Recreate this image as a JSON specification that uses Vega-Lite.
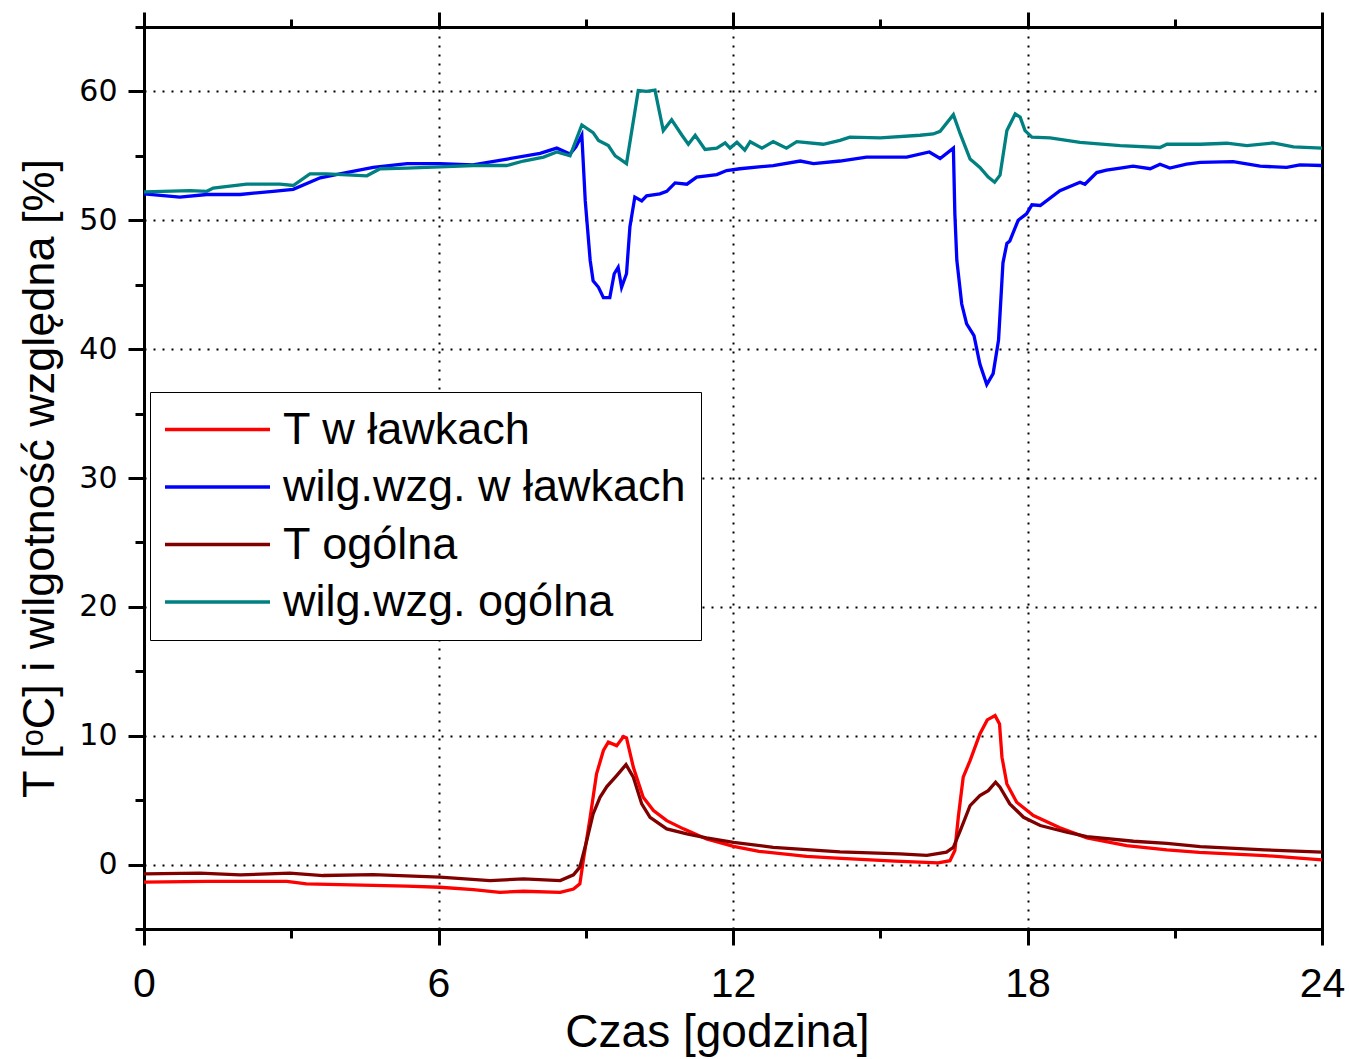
{
  "$schema": "https://vega.github.io/schema/vega-lite/v6.json",
  "width": 1178,
  "height": 902,
  "autosize": {"type": "none"},
  "padding": {"left": 144, "top": 27, "right": 27, "bottom": 130},
  "background": "white",
  "config": {"view": {"stroke": null}},
  "data": {"values": [
    {"h":0,"v":-1.37,"s":"T w ławkach"},{"h":1.28,"v":-1.3,"s":"T w ławkach"},{"h":2.91,"v":-1.3,"s":"T w ławkach"},{"h":3.31,"v":-1.5,"s":"T w ławkach"},{"h":3.99,"v":-1.55,"s":"T w ławkach"},{"h":5.35,"v":-1.68,"s":"T w ławkach"},{"h":6.03,"v":-1.76,"s":"T w ławkach"},{"h":6.71,"v":-1.94,"s":"T w ławkach"},{"h":7.25,"v":-2.15,"s":"T w ławkach"},{"h":7.73,"v":-2.07,"s":"T w ławkach"},{"h":8.48,"v":-2.15,"s":"T w ławkach"},{"h":8.75,"v":-1.9,"s":"T w ławkach"},{"h":8.88,"v":-1.5,"s":"T w ławkach"},{"h":8.95,"v":0.31,"s":"T w ławkach"},{"h":9.09,"v":3.67,"s":"T w ławkach"},{"h":9.22,"v":7.04,"s":"T w ławkach"},{"h":9.36,"v":8.85,"s":"T w ławkach"},{"h":9.46,"v":9.5,"s":"T w ławkach"},{"h":9.63,"v":9.23,"s":"T w ławkach"},{"h":9.77,"v":9.93,"s":"T w ławkach"},{"h":9.83,"v":9.83,"s":"T w ławkach"},{"h":9.97,"v":7.55,"s":"T w ławkach"},{"h":10.17,"v":5.22,"s":"T w ławkach"},{"h":10.38,"v":4.19,"s":"T w ławkach"},{"h":10.65,"v":3.41,"s":"T w ławkach"},{"h":10.99,"v":2.77,"s":"T w ławkach"},{"h":11.46,"v":1.99,"s":"T w ławkach"},{"h":12.01,"v":1.42,"s":"T w ławkach"},{"h":12.53,"v":1.03,"s":"T w ławkach"},{"h":13.5,"v":0.64,"s":"T w ławkach"},{"h":14.11,"v":0.5,"s":"T w ławkach"},{"h":15.3,"v":0.26,"s":"T w ławkach"},{"h":16.18,"v":0.13,"s":"T w ławkach"},{"h":16.42,"v":0.3,"s":"T w ławkach"},{"h":16.52,"v":1.09,"s":"T w ławkach"},{"h":16.59,"v":3.67,"s":"T w ławkach"},{"h":16.69,"v":6.78,"s":"T w ławkach"},{"h":16.83,"v":8.07,"s":"T w ławkach"},{"h":17.03,"v":10.14,"s":"T w ławkach"},{"h":17.18,"v":11.23,"s":"T w ławkach"},{"h":17.34,"v":11.56,"s":"T w ławkach"},{"h":17.43,"v":10.92,"s":"T w ławkach"},{"h":17.48,"v":8.33,"s":"T w ławkach"},{"h":17.58,"v":6.26,"s":"T w ławkach"},{"h":17.78,"v":4.84,"s":"T w ławkach"},{"h":18.12,"v":3.8,"s":"T w ławkach"},{"h":18.66,"v":2.85,"s":"T w ławkach"},{"h":19.21,"v":2.07,"s":"T w ławkach"},{"h":20.02,"v":1.47,"s":"T w ławkach"},{"h":20.84,"v":1.14,"s":"T w ławkach"},{"h":21.5,"v":0.95,"s":"T w ławkach"},{"h":22.84,"v":0.7,"s":"T w ławkach"},{"h":24,"v":0.36,"s":"T w ławkach"},

    {"h":0,"v":52.05,"s":"wilg.wzg. w ławkach"},{"h":0.73,"v":51.8,"s":"wilg.wzg. w ławkach"},{"h":1.28,"v":52.0,"s":"wilg.wzg. w ławkach"},{"h":1.96,"v":52.0,"s":"wilg.wzg. w ławkach"},{"h":2.63,"v":52.25,"s":"wilg.wzg. w ławkach"},{"h":3.04,"v":52.4,"s":"wilg.wzg. w ławkach"},{"h":3.59,"v":53.3,"s":"wilg.wzg. w ławkach"},{"h":3.99,"v":53.6,"s":"wilg.wzg. w ławkach"},{"h":4.67,"v":54.1,"s":"wilg.wzg. w ławkach"},{"h":5.36,"v":54.4,"s":"wilg.wzg. w ławkach"},{"h":6.03,"v":54.4,"s":"wilg.wzg. w ławkach"},{"h":6.7,"v":54.3,"s":"wilg.wzg. w ławkach"},{"h":7.4,"v":54.75,"s":"wilg.wzg. w ławkach"},{"h":8.07,"v":55.2,"s":"wilg.wzg. w ławkach"},{"h":8.41,"v":55.6,"s":"wilg.wzg. w ławkach"},{"h":8.68,"v":55.15,"s":"wilg.wzg. w ławkach"},{"h":8.8,"v":55.7,"s":"wilg.wzg. w ławkach"},{"h":8.92,"v":56.6,"s":"wilg.wzg. w ławkach"},{"h":8.99,"v":51.5,"s":"wilg.wzg. w ławkach"},{"h":9.09,"v":46.9,"s":"wilg.wzg. w ławkach"},{"h":9.15,"v":45.3,"s":"wilg.wzg. w ławkach"},{"h":9.26,"v":44.8,"s":"wilg.wzg. w ławkach"},{"h":9.36,"v":44.0,"s":"wilg.wzg. w ławkach"},{"h":9.49,"v":44.0,"s":"wilg.wzg. w ławkach"},{"h":9.58,"v":45.85,"s":"wilg.wzg. w ławkach"},{"h":9.66,"v":46.35,"s":"wilg.wzg. w ławkach"},{"h":9.73,"v":44.8,"s":"wilg.wzg. w ławkach"},{"h":9.83,"v":45.85,"s":"wilg.wzg. w ławkach"},{"h":9.9,"v":49.5,"s":"wilg.wzg. w ławkach"},{"h":10.0,"v":51.8,"s":"wilg.wzg. w ławkach"},{"h":10.14,"v":51.5,"s":"wilg.wzg. w ławkach"},{"h":10.24,"v":51.9,"s":"wilg.wzg. w ławkach"},{"h":10.51,"v":52.05,"s":"wilg.wzg. w ławkach"},{"h":10.65,"v":52.25,"s":"wilg.wzg. w ławkach"},{"h":10.82,"v":52.9,"s":"wilg.wzg. w ławkach"},{"h":11.06,"v":52.8,"s":"wilg.wzg. w ławkach"},{"h":11.26,"v":53.35,"s":"wilg.wzg. w ławkach"},{"h":11.67,"v":53.55,"s":"wilg.wzg. w ławkach"},{"h":11.87,"v":53.86,"s":"wilg.wzg. w ławkach"},{"h":12.14,"v":54.0,"s":"wilg.wzg. w ławkach"},{"h":12.82,"v":54.25,"s":"wilg.wzg. w ławkach"},{"h":13.37,"v":54.6,"s":"wilg.wzg. w ławkach"},{"h":13.64,"v":54.4,"s":"wilg.wzg. w ławkach"},{"h":14.18,"v":54.6,"s":"wilg.wzg. w ławkach"},{"h":14.72,"v":54.9,"s":"wilg.wzg. w ławkach"},{"h":15.54,"v":54.9,"s":"wilg.wzg. w ławkach"},{"h":16.0,"v":55.3,"s":"wilg.wzg. w ławkach"},{"h":16.22,"v":54.8,"s":"wilg.wzg. w ławkach"},{"h":16.49,"v":55.6,"s":"wilg.wzg. w ławkach"},{"h":16.52,"v":50.5,"s":"wilg.wzg. w ławkach"},{"h":16.56,"v":46.9,"s":"wilg.wzg. w ławkach"},{"h":16.66,"v":43.5,"s":"wilg.wzg. w ławkach"},{"h":16.76,"v":41.96,"s":"wilg.wzg. w ławkach"},{"h":16.91,"v":41.05,"s":"wilg.wzg. w ławkach"},{"h":17.03,"v":38.85,"s":"wilg.wzg. w ławkach"},{"h":17.17,"v":37.25,"s":"wilg.wzg. w ławkach"},{"h":17.3,"v":38.1,"s":"wilg.wzg. w ławkach"},{"h":17.41,"v":40.7,"s":"wilg.wzg. w ławkach"},{"h":17.5,"v":46.7,"s":"wilg.wzg. w ławkach"},{"h":17.58,"v":48.2,"s":"wilg.wzg. w ławkach"},{"h":17.64,"v":48.4,"s":"wilg.wzg. w ławkach"},{"h":17.81,"v":50.0,"s":"wilg.wzg. w ławkach"},{"h":17.98,"v":50.5,"s":"wilg.wzg. w ławkach"},{"h":18.09,"v":51.2,"s":"wilg.wzg. w ławkach"},{"h":18.26,"v":51.15,"s":"wilg.wzg. w ławkach"},{"h":18.66,"v":52.3,"s":"wilg.wzg. w ławkach"},{"h":19.07,"v":52.95,"s":"wilg.wzg. w ławkach"},{"h":19.17,"v":52.8,"s":"wilg.wzg. w ławkach"},{"h":19.41,"v":53.7,"s":"wilg.wzg. w ławkach"},{"h":19.61,"v":53.9,"s":"wilg.wzg. w ławkach"},{"h":19.89,"v":54.05,"s":"wilg.wzg. w ławkach"},{"h":20.15,"v":54.2,"s":"wilg.wzg. w ławkach"},{"h":20.5,"v":54.0,"s":"wilg.wzg. w ławkach"},{"h":20.7,"v":54.35,"s":"wilg.wzg. w ławkach"},{"h":20.9,"v":54.05,"s":"wilg.wzg. w ławkach"},{"h":21.24,"v":54.35,"s":"wilg.wzg. w ławkach"},{"h":21.52,"v":54.5,"s":"wilg.wzg. w ławkach"},{"h":22.19,"v":54.55,"s":"wilg.wzg. w ławkach"},{"h":22.74,"v":54.2,"s":"wilg.wzg. w ławkach"},{"h":23.28,"v":54.1,"s":"wilg.wzg. w ławkach"},{"h":23.55,"v":54.3,"s":"wilg.wzg. w ławkach"},{"h":24,"v":54.25,"s":"wilg.wzg. w ławkach"},

    {"h":0,"v":-0.72,"s":"T ogólna"},{"h":1.14,"v":-0.67,"s":"T ogólna"},{"h":1.96,"v":-0.8,"s":"T ogólna"},{"h":2.97,"v":-0.67,"s":"T ogólna"},{"h":3.65,"v":-0.85,"s":"T ogólna"},{"h":4.67,"v":-0.78,"s":"T ogólna"},{"h":6.03,"v":-0.98,"s":"T ogólna"},{"h":7.05,"v":-1.24,"s":"T ogólna"},{"h":7.73,"v":-1.11,"s":"T ogólna"},{"h":8.48,"v":-1.24,"s":"T ogólna"},{"h":8.75,"v":-0.8,"s":"T ogólna"},{"h":8.88,"v":-0.2,"s":"T ogólna"},{"h":9.02,"v":1.86,"s":"T ogólna"},{"h":9.15,"v":3.93,"s":"T ogólna"},{"h":9.29,"v":5.22,"s":"T ogólna"},{"h":9.43,"v":6.05,"s":"T ogólna"},{"h":9.63,"v":6.91,"s":"T ogólna"},{"h":9.82,"v":7.76,"s":"T ogólna"},{"h":9.97,"v":6.78,"s":"T ogólna"},{"h":10.14,"v":4.71,"s":"T ogólna"},{"h":10.31,"v":3.67,"s":"T ogólna"},{"h":10.65,"v":2.77,"s":"T ogólna"},{"h":11.06,"v":2.38,"s":"T ogólna"},{"h":11.46,"v":2.07,"s":"T ogólna"},{"h":12.01,"v":1.73,"s":"T ogólna"},{"h":12.82,"v":1.34,"s":"T ogólna"},{"h":14.18,"v":0.98,"s":"T ogólna"},{"h":15.4,"v":0.83,"s":"T ogólna"},{"h":15.95,"v":0.72,"s":"T ogólna"},{"h":16.35,"v":0.96,"s":"T ogólna"},{"h":16.49,"v":1.34,"s":"T ogólna"},{"h":16.63,"v":2.64,"s":"T ogólna"},{"h":16.83,"v":4.58,"s":"T ogólna"},{"h":17.03,"v":5.35,"s":"T ogólna"},{"h":17.2,"v":5.74,"s":"T ogólna"},{"h":17.35,"v":6.39,"s":"T ogólna"},{"h":17.44,"v":6.0,"s":"T ogólna"},{"h":17.64,"v":4.71,"s":"T ogólna"},{"h":17.92,"v":3.67,"s":"T ogólna"},{"h":18.26,"v":3.03,"s":"T ogólna"},{"h":18.8,"v":2.51,"s":"T ogólna"},{"h":19.21,"v":2.17,"s":"T ogólna"},{"h":20.16,"v":1.81,"s":"T ogólna"},{"h":20.84,"v":1.65,"s":"T ogólna"},{"h":21.52,"v":1.4,"s":"T ogólna"},{"h":22.83,"v":1.14,"s":"T ogólna"},{"h":24,"v":0.96,"s":"T ogólna"},

    {"h":0,"v":52.2,"s":"wilg.wzg. ogólna"},{"h":0.94,"v":52.3,"s":"wilg.wzg. ogólna"},{"h":1.28,"v":52.25,"s":"wilg.wzg. ogólna"},{"h":1.41,"v":52.5,"s":"wilg.wzg. ogólna"},{"h":2.09,"v":52.8,"s":"wilg.wzg. ogólna"},{"h":2.77,"v":52.8,"s":"wilg.wzg. ogólna"},{"h":3.04,"v":52.7,"s":"wilg.wzg. ogólna"},{"h":3.38,"v":53.6,"s":"wilg.wzg. ogólna"},{"h":3.72,"v":53.6,"s":"wilg.wzg. ogólna"},{"h":4.54,"v":53.45,"s":"wilg.wzg. ogólna"},{"h":4.81,"v":54.0,"s":"wilg.wzg. ogólna"},{"h":5.35,"v":54.05,"s":"wilg.wzg. ogólna"},{"h":6.03,"v":54.15,"s":"wilg.wzg. ogólna"},{"h":6.71,"v":54.25,"s":"wilg.wzg. ogólna"},{"h":7.39,"v":54.25,"s":"wilg.wzg. ogólna"},{"h":7.73,"v":54.6,"s":"wilg.wzg. ogólna"},{"h":8.14,"v":54.9,"s":"wilg.wzg. ogólna"},{"h":8.41,"v":55.3,"s":"wilg.wzg. ogólna"},{"h":8.68,"v":55.0,"s":"wilg.wzg. ogólna"},{"h":8.92,"v":57.4,"s":"wilg.wzg. ogólna"},{"h":9.15,"v":56.8,"s":"wilg.wzg. ogólna"},{"h":9.26,"v":56.2,"s":"wilg.wzg. ogólna"},{"h":9.46,"v":55.8,"s":"wilg.wzg. ogólna"},{"h":9.6,"v":55.0,"s":"wilg.wzg. ogólna"},{"h":9.7,"v":54.75,"s":"wilg.wzg. ogólna"},{"h":9.83,"v":54.4,"s":"wilg.wzg. ogólna"},{"h":10.07,"v":60.07,"s":"wilg.wzg. ogólna"},{"h":10.24,"v":60.0,"s":"wilg.wzg. ogólna"},{"h":10.41,"v":60.1,"s":"wilg.wzg. ogólna"},{"h":10.58,"v":56.96,"s":"wilg.wzg. ogólna"},{"h":10.75,"v":57.8,"s":"wilg.wzg. ogólna"},{"h":10.96,"v":56.6,"s":"wilg.wzg. ogólna"},{"h":11.09,"v":55.9,"s":"wilg.wzg. ogólna"},{"h":11.23,"v":56.6,"s":"wilg.wzg. ogólna"},{"h":11.43,"v":55.5,"s":"wilg.wzg. ogólna"},{"h":11.67,"v":55.6,"s":"wilg.wzg. ogólna"},{"h":11.84,"v":56.0,"s":"wilg.wzg. ogólna"},{"h":11.94,"v":55.6,"s":"wilg.wzg. ogólna"},{"h":12.08,"v":56.05,"s":"wilg.wzg. ogólna"},{"h":12.24,"v":55.45,"s":"wilg.wzg. ogólna"},{"h":12.35,"v":56.1,"s":"wilg.wzg. ogólna"},{"h":12.59,"v":55.6,"s":"wilg.wzg. ogólna"},{"h":12.82,"v":56.1,"s":"wilg.wzg. ogólna"},{"h":13.09,"v":55.6,"s":"wilg.wzg. ogólna"},{"h":13.3,"v":56.1,"s":"wilg.wzg. ogólna"},{"h":13.84,"v":55.9,"s":"wilg.wzg. ogólna"},{"h":14.18,"v":56.2,"s":"wilg.wzg. ogólna"},{"h":14.38,"v":56.45,"s":"wilg.wzg. ogólna"},{"h":15.0,"v":56.4,"s":"wilg.wzg. ogólna"},{"h":15.81,"v":56.6,"s":"wilg.wzg. ogólna"},{"h":16.08,"v":56.7,"s":"wilg.wzg. ogólna"},{"h":16.22,"v":56.9,"s":"wilg.wzg. ogólna"},{"h":16.49,"v":58.2,"s":"wilg.wzg. ogólna"},{"h":16.63,"v":56.7,"s":"wilg.wzg. ogólna"},{"h":16.83,"v":54.75,"s":"wilg.wzg. ogólna"},{"h":17.03,"v":54.1,"s":"wilg.wzg. ogólna"},{"h":17.2,"v":53.35,"s":"wilg.wzg. ogólna"},{"h":17.33,"v":52.95,"s":"wilg.wzg. ogólna"},{"h":17.44,"v":53.5,"s":"wilg.wzg. ogólna"},{"h":17.58,"v":56.96,"s":"wilg.wzg. ogólna"},{"h":17.75,"v":58.25,"s":"wilg.wzg. ogólna"},{"h":17.85,"v":58.0,"s":"wilg.wzg. ogólna"},{"h":17.95,"v":56.96,"s":"wilg.wzg. ogólna"},{"h":18.09,"v":56.45,"s":"wilg.wzg. ogólna"},{"h":18.46,"v":56.4,"s":"wilg.wzg. ogólna"},{"h":19.07,"v":56.05,"s":"wilg.wzg. ogólna"},{"h":19.89,"v":55.8,"s":"wilg.wzg. ogólna"},{"h":20.7,"v":55.65,"s":"wilg.wzg. ogólna"},{"h":20.84,"v":55.9,"s":"wilg.wzg. ogólna"},{"h":21.52,"v":55.9,"s":"wilg.wzg. ogólna"},{"h":22.06,"v":55.98,"s":"wilg.wzg. ogólna"},{"h":22.47,"v":55.8,"s":"wilg.wzg. ogólna"},{"h":23.0,"v":56.0,"s":"wilg.wzg. ogólna"},{"h":23.42,"v":55.7,"s":"wilg.wzg. ogólna"},{"h":24,"v":55.6,"s":"wilg.wzg. ogólna"}
  ]},
  "layer": [
    {
      "mark": {"type": "line", "strokeWidth": 3.3, "interpolate": "linear"},
      "encoding": {
        "x": {"field": "h", "type": "quantitative",
          "scale": {"domain": [0, 24], "nice": false, "zero": false},
          "axis": {
            "orient": "bottom",
            "values": [0, 3, 6, 9, 12, 15, 18, 21, 24],
            "labelExpr": "datum.value % 6 === 0 ? datum.label : ''",
            "tickSize": {"condition": {"test": "datum.value % 6 === 0", "value": 16}, "value": 9},
            "tickWidth": 3, "tickColor": "black",
            "domainColor": "black", "domainWidth": 3, "domainCap": "square",
            "grid": true, "gridColor": "black", "gridDash": [2, 7], "gridWidth": 2,
            "gridOpacity": {"condition": {"test": "datum.value % 6 === 0 && datum.value > 0 && datum.value < 24", "value": 1}, "value": 0},
            "labelFont": "Liberation Sans", "labelFontSize": 41, "labelColor": "black", "labelPadding": 19,
            "labelFlush": false, "labelOverlap": false,
            "title": "Czas [godzina]", "titleFont": "Liberation Sans", "titleFontSize": 46,
            "titleFontWeight": "normal", "titleColor": "black", "titlePadding": 6, "titleX": 573
          }},
        "y": {"field": "v", "type": "quantitative",
          "scale": {"domain": [-5, 65], "nice": false, "zero": false},
          "axis": {
            "orient": "left",
            "values": [-5, 0, 5, 10, 15, 20, 25, 30, 35, 40, 45, 50, 55, 60, 65],
            "labelExpr": "datum.value % 10 === 0 && datum.value >= 0 && datum.value <= 60 ? datum.label : ''",
            "tickSize": {"condition": {"test": "datum.value % 10 === 0", "value": 16}, "value": 9},
            "tickWidth": 3, "tickColor": "black",
            "domainColor": "black", "domainWidth": 3, "domainCap": "square",
            "grid": true, "gridColor": "black", "gridDash": [2, 7], "gridWidth": 2,
            "gridOpacity": {"condition": {"test": "datum.value % 10 === 0 && datum.value >= 0 && datum.value <= 60", "value": 1}, "value": 0},
            "labelFont": "DejaVu Sans", "labelFontSize": 30, "labelColor": "black", "labelPadding": 11,
            "labelFlush": false, "labelOverlap": false,
            "title": "T [ᵒC] i wilgotność względna [%]", "titleFont": "Liberation Sans", "titleFontSize": 45,
            "titleFontWeight": "normal", "titleColor": "black", "titlePadding": 16
          }},
        "color": {"field": "s", "type": "nominal",
          "scale": {"domain": ["T w ławkach", "wilg.wzg. w ławkach", "T ogólna", "wilg.wzg. ogólna"],
                    "range": ["#FF0000", "#0000FF", "#800000", "#008080"]},
          "legend": {
            "orient": "none", "legendX": 6, "legendY": 365,
            "title": null, "symbolType": "M-2.25,0H8.25", "symbolSize": 400, "symbolStrokeWidth": 3.5,
            "labelFont": "Liberation Sans", "labelFontSize": 45, "labelColor": "black", "labelOffset": 73,
            "labelLimit": 600,
            "fillColor": "white", "strokeColor": "black", "padding": 15,
            "rowPadding": 11.5
          }}
      }
    },
    {
      "mark": {"type": "point", "opacity": 0},
      "encoding": {
        "x": {"field": "h", "type": "quantitative",
          "axis": {
            "orient": "top", "values": [0, 3, 6, 9, 12, 15, 18, 21, 24], "labels": false, "title": null, "grid": false,
            "tickSize": {"condition": {"test": "datum.value % 6 === 0", "value": 15}, "value": 8},
            "tickWidth": 3, "tickColor": "black",
            "domainColor": "black", "domainWidth": 3, "domainCap": "square"
          }},
        "y": {"field": "v", "type": "quantitative",
          "axis": {
            "orient": "right", "values": [0, 10, 20, 30, 40, 50, 60], "labels": false, "title": null, "grid": false, "ticks": false,
            "domainColor": "black", "domainWidth": 3, "domainCap": "square"
          }}
      }
    }
  ],
  "resolve": {"axis": {"x": "independent", "y": "independent"}}
}
